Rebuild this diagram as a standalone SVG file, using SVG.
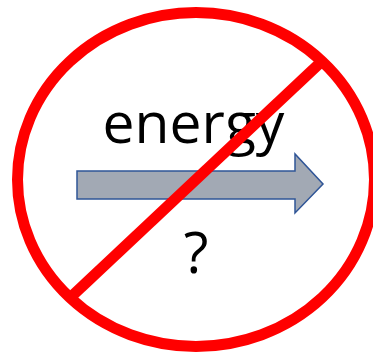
<svg xmlns="http://www.w3.org/2000/svg" width="373" height="354" viewBox="0 0 373 354">
<style>
.lbl{font-family:"Open Sans","Noto Sans","Liberation Sans",sans-serif;font-size:57px;fill:#000;text-anchor:middle}
.no{fill:none;stroke:#ff0000;stroke-width:11}
</style>
<rect width="373" height="354" fill="#fff"/>
<g id="label-energy"><text class="lbl" x="193.5" y="143">energy</text></g>
<g id="arrow"><path d="M77,171 H295 V154 L323,184 L295,213 V199 H77 Z" fill="#a2a9b4" stroke="#2f5597" stroke-width="1.5" stroke-linejoin="miter"/></g>
<g id="label-q"><text class="lbl" x="196" y="273">?</text></g>
<g id="no-sign">
<ellipse class="no" cx="196" cy="179.5" rx="178.5" ry="167"/>
<line class="no" x1="72" y1="296" x2="320" y2="63"/>
</g>
</svg>
